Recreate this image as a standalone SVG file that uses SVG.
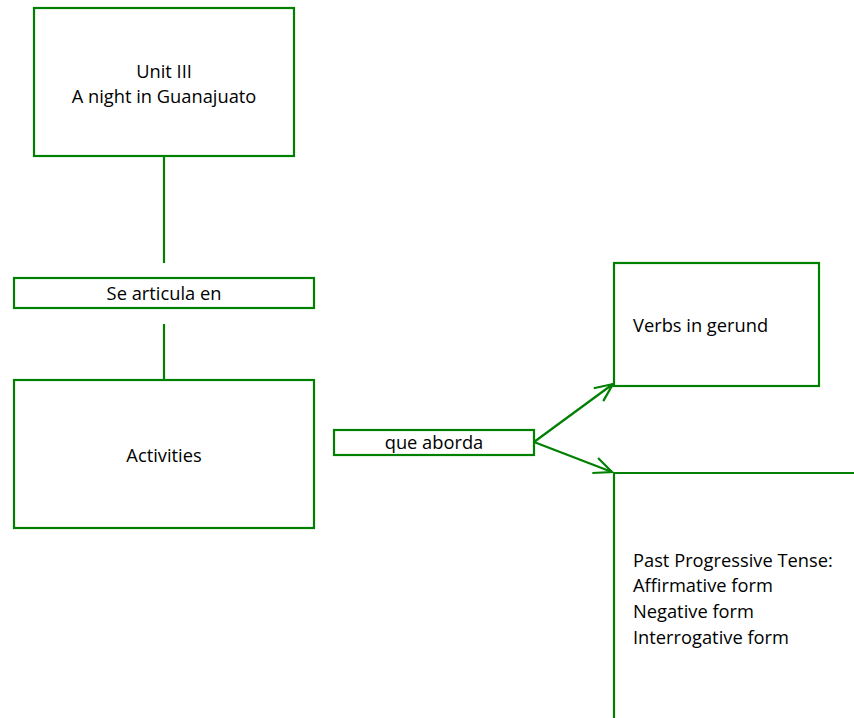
<svg xmlns="http://www.w3.org/2000/svg" width="854" height="718" viewBox="0 0 854 718">
<defs>
<style>
.box{fill:#fff;stroke:#008000;stroke-width:2.2}
.ln{fill:none;stroke:#008000;stroke-width:2.2}
text{font-family:"Open Sans","Liberation Sans",sans-serif;font-size:18.3px;fill:#000}
.c{text-anchor:middle}
</style>
<marker id="arr" markerWidth="24" markerHeight="24" refX="20" refY="10" orient="auto" markerUnits="userSpaceOnUse" viewBox="0 0 24 20">
<path d="M2,2 L20,10 L2,18" fill="none" stroke="#008000" stroke-width="2.2"/>
</marker>
</defs>
<rect width="854" height="718" fill="#fff"/>
<g id="connectors">
<line class="ln" x1="164" y1="156" x2="164" y2="263"/>
<line class="ln" x1="164" y1="324" x2="164" y2="380"/>
<line class="ln" x1="534" y1="442" x2="613" y2="384" marker-end="url(#arr)"/>
<line class="ln" x1="534" y1="442" x2="612" y2="472" marker-end="url(#arr)"/>
</g>
<g id="unit">
<rect class="box" x="34" y="8" width="260" height="148"/>
<text class="c" x="164" y="78">Unit III</text>
<text class="c" x="164" y="103">A night in Guanajuato</text>
</g>
<g id="se-articula">
<rect class="box" x="14" y="278" width="300" height="30"/>
<text class="c" x="164" y="300">Se articula en</text>
</g>
<g id="activities">
<rect class="box" x="14" y="380" width="300" height="148"/>
<text class="c" x="164" y="462">Activities</text>
</g>
<g id="que-aborda">
<rect class="box" x="334" y="430" width="200" height="25"/>
<text class="c" x="434" y="449">que aborda</text>
</g>
<g id="verbs">
<rect class="box" x="614" y="263" width="205" height="123"/>
<text x="633" y="332">Verbs in gerund</text>
</g>
<g id="past">
<path class="ln" d="M614,718 L614,473 L854,473"/>
<text x="633" y="567">Past Progressive Tense:</text>
<text x="633" y="592">Affirmative form</text>
<text x="633" y="618">Negative form</text>
<text x="633" y="644">Interrogative form</text>
</g>
</svg>
